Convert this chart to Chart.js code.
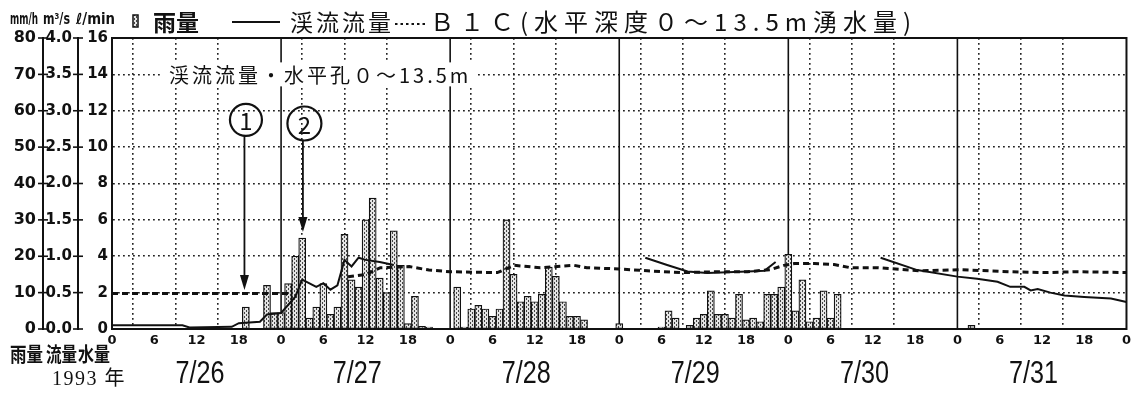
<!DOCTYPE html>
<html>
<head>
<meta charset="utf-8">
<script src="https://cdn.jsdelivr.net/npm/chart.js@4.4.1/dist/chart.umd.min.js"></script>
<style>
  body { margin: 0; background: #fff; }
  #wrap { position: relative; width: 1135px; height: 398px; }
</style>
</head>
<body>
<div id="wrap"><canvas id="chart"></canvas></div>
<script>
// 1993, hourly values from 7/26 0h to 7/31 24h
var days = ['7/26', '7/27', '7/28', '7/29', '7/30', '7/31'];
var hourTicks = ['0', '6', '12', '18'];
var rainTicks = ['0', '10', '20', '30', '40', '50', '60', '70', '80'];
var flowTicks = ['0.0', '0.5', '1.0', '1.5', '2.0', '2.5', '3.0', '3.5', '4.0'];
var bicTicks = ['0', '2', '4', '6', '8', '10', '12', '14', '16'];

// 雨量 mm/h, one bar per hour
var rain0726 = [0,0,0,0,0,0, 0,0,0,0,0,0, 0,0,0,0,0,0, 6,0,0,12,4.5,4.5];
var rain0727 = [12.5,20,25,3,6,12.5, 4,6,26,13.5,11.5,30, 36,14,10,27,17.5,1.5, 9,0.7,0.5,0,0,0];
var rain0728 = [11.5,0.5,5.5,6.5,5.5,3.5, 5.5,30,15,7.5,9,7.5, 9.5,17,14.5,7.5,3.5,3.5, 2.5,0,0,0,0,1.5];
var rain0729 = [0,0,0,0,0,0.5, 5,3,0,1,3,4, 10.5,4,4,3,9.5,2.5, 3,2,9.5,9.5,11.5,20.5];
var rain0730 = [5,13.5,2,3,10.5,3, 9.5,0,0,0,0,0, 0,0,0,0,0,0, 0,0,0,0,0,0];
var rain0731 = [0,1,0,0,0,0, 0,0,0,0,0,0, 0,0,0,0,0,0, 0,0,0,0,0,0];

// 渓流流量 m3/s (hour from 7/26 0h, null = no record)
var flowHours  = [0, 10, 11, 17, 18, 21, 22, 24, 26, 27, 29, 30, 31, 32, 33, 34, 35, 36, 38, 40, 41,
                  75.7, 78.8, 81.7, 84.5, 90.2, 92.6, 94.2, 95,
                  109.1, 114.3, 120, 122.8, 125.7, 127.5, 129.5, 130.4, 131.4, 133.2, 135.2, 138, 141.8, 144];
var flowValues = [0.05, 0.05, 0.02, 0.03, 0.08, 0.1, 0.2, 0.22, 0.44, 0.68, 0.58, 0.63, 0.54, 0.6, 0.95, 0.86, 0.98, 0.95, 0.92, 0.88, null,
                  0.98, 0.88, 0.79, 0.77, 0.79, 0.8, 0.92, null,
                  0.98, 0.81, 0.72, 0.69, 0.65, 0.58, 0.58, 0.53, 0.55, 0.5, 0.46, 0.44, 0.42, 0.37];

// B1C 湧水量 l/min
var bicHours  = [0, 25, 26, 33.5, 36, 38.1, 42.2, 45, 48, 54.7, 57.1, 60.8, 65.6, 67.4, 72, 76, 80.7, 86, 90.2, 93.4,
                 95.4, 96.9, 99.7, 102.5, 104.8, 108.6, 114.7, 120.4, 127.5, 132.3, 137, 144];
var bicValues = [1.95, 1.95, null, 2.87, 3.0, 3.37, 3.43, 3.24, 3.15, 3.1, 3.5, 3.37, 3.5, 3.37, 3.3, 3.2, 3.1, 3.15, 3.15, 3.26,
                 3.5, 3.6, 3.6, 3.55, 3.37, 3.37, 3.2, 3.26, 3.15, 3.1, 3.15, 3.1];

var rain = [].concat(rain0726, rain0727, rain0728, rain0729, rain0730, rain0731);

var numFont = '"DejaVu Sans", sans-serif';
var jpFont = '"Noto Sans CJK JP", sans-serif';
var ink = '#111';

// speckled fill of the rain bars
function speckle() {
  var c = document.createElement('canvas');
  c.width = 4; c.height = 4;
  var g = c.getContext('2d');
  g.fillStyle = '#e4e4e4'; g.fillRect(0, 0, 4, 4);
  g.fillStyle = '#444';
  g.fillRect(0, 0, 1, 2); g.fillRect(2, 2, 1, 2);
  return g.createPattern(c, 'repeat');
}
var barFill = speckle();

function spaced(ctx, txt, x, y, gap) {
  for (var ch of txt) {
    ctx.fillText(ch, x, y);
    x += ctx.measureText(ch).width + gap;
  }
  return x;
}
// draw text squeezed to a given width
function fitText(ctx, txt, x, y, w) {
  var m = ctx.measureText(txt).width;
  ctx.save();
  ctx.translate(x, y);
  ctx.scale(w / m, 1);
  ctx.fillText(txt, 0, 0);
  ctx.restore();
}

var decor = {
  id: 'decor',
  beforeDatasetsDraw: function(chart) {
    var ctx = chart.ctx, a = chart.chartArea, x = chart.scales.x;
    ctx.save();
    ctx.strokeStyle = ink;
    ctx.lineWidth = 1.6;
    for (var d = 1; d < days.length; d++) {
      var px = x.getPixelForValue(d * 24);
      ctx.beginPath(); ctx.moveTo(px, a.top); ctx.lineTo(px, a.bottom); ctx.stroke();
    }
    ctx.restore();
  },
  afterDatasetsDraw: function(chart) {
    var ctx = chart.ctx, a = chart.chartArea, x = chart.scales.x, y = chart.scales.y;
    ctx.save();
    ctx.lineWidth = 2;
    ctx.strokeStyle = ink;
    ctx.strokeRect(a.left, a.top, a.right - a.left, a.bottom - a.top);

    // inner caption
    var cap = '渓流流量・水平孔０～13.5m';
    ctx.font = '20px ' + jpFont;
    ctx.textBaseline = 'middle';
    var cy = y.getPixelForValue(14);
    var w = 0;
    for (var ch of cap) w += ctx.measureText(ch).width + 3;
    ctx.fillStyle = '#fff';
    ctx.fillRect(161, cy - 12, w + 14, 24);
    ctx.fillStyle = ink;
    spaced(ctx, cap, 169, cy + 1, 3);

    // circled markers with arrows
    var marks = [
      { t: '1', hour: 18.8, circ: 11.5, tip: 2.15, r: 16 },
      { t: '2', hour: 27.1, circ: 11.3, tip: 5.33, r: 17 }
    ];
    marks.forEach(function(m) {
      var px = x.getPixelForValue(m.hour);
      var ccx = px + 1.5, ccy = y.getPixelForValue(m.circ);
      var ty = y.getPixelForValue(m.tip);
      ctx.lineWidth = 2.2;
      ctx.beginPath(); ctx.arc(ccx, ccy, m.r, 0, Math.PI * 2); ctx.stroke();
      ctx.font = '24px ' + jpFont;
      ctx.textAlign = 'center';
      ctx.fillText(m.t, ccx, ccy + 1);
      ctx.lineWidth = 1.8;
      ctx.beginPath(); ctx.moveTo(px, ccy + m.r); ctx.lineTo(px, ty - 12); ctx.stroke();
      ctx.beginPath();
      ctx.moveTo(px - 4.5, ty - 15); ctx.lineTo(px + 4.5, ty - 15); ctx.lineTo(px, ty);
      ctx.closePath(); ctx.fill();
    });
    ctx.restore();
  },
  afterDraw: function(chart) {
    var ctx = chart.ctx, x = chart.scales.x;
    ctx.save();
    ctx.fillStyle = ink;
    ctx.strokeStyle = ink;

    // cross ticks on the two outer axes
    ['yFlow', 'yRain'].forEach(function(id) {
      var s = chart.scales[id];
      ctx.lineWidth = 1.6;
      s.ticks.forEach(function(t) {
        var py = s.getPixelForValue(t.value);
        ctx.beginPath(); ctx.moveTo(s.right - 5, py); ctx.lineTo(s.right + 5, py); ctx.stroke();
      });
    });

    ctx.textBaseline = 'middle';
    // unit headers
    ctx.font = 'bold 15px ' + numFont;
    fitText(ctx, 'mm/h', 10, 20, 28);
    fitText(ctx, 'm³/s', 43, 20, 27);
    fitText(ctx, 'ℓ/min', 76, 20, 39);

    // legend
    ctx.fillStyle = barFill;
    ctx.fillRect(133, 15, 5, 12);
    ctx.lineWidth = 1.5;
    ctx.strokeRect(133, 15, 5, 12);
    ctx.fillStyle = ink;
    ctx.font = 'bold 23px ' + jpFont;
    ctx.fillText('雨量', 153, 22);
    ctx.lineWidth = 2;
    ctx.beginPath(); ctx.moveTo(232, 22); ctx.lineTo(280, 22); ctx.stroke();
    ctx.font = '23px ' + jpFont;
    spaced(ctx, '渓流流量', 290, 22, 3);
    ctx.setLineDash([2.5, 3]);
    ctx.beginPath(); ctx.moveTo(395, 24); ctx.lineTo(428, 24); ctx.stroke();
    ctx.setLineDash([]);
    ctx.font = '24px ' + jpFont;
    spaced(ctx, 'Ｂ１Ｃ(水平深度０～13.5m湧水量)', 430, 22, 6);

    // bottom captions
    ctx.font = 'bold 20px ' + jpFont;
    fitText(ctx, '雨量', 10, 354, 33);
    fitText(ctx, '流量', 46, 354, 31);
    fitText(ctx, '水量', 78, 354, 32);
    ctx.font = '20px "Liberation Serif", ' + jpFont;
    spaced(ctx, '1993 年', 52, 380, 1.5);

    ctx.font = '32px "Liberation Sans", sans-serif';
    ctx.textAlign = 'center';
    days.forEach(function(d, i) {
      var px = x.getPixelForValue(i * 24 + (i === 0 ? 12.5 : 10.8));
      var m = ctx.measureText(d).width;
      ctx.save();
      ctx.translate(px, 374);
      ctx.scale(49 / m, 1);
      ctx.fillText(d, 0, 0);
      ctx.restore();
    });
    ctx.restore();
  }
};

var dotted = [1.8, 3.2];
var clear = 'rgba(0,0,0,0)';
Chart.defaults.font.family = numFont;
Chart.defaults.font.weight = 'bold';
Chart.defaults.color = ink;

new Chart(document.getElementById('chart'), {
  type: 'bar',
  data: {
    datasets: [
      {
        type: 'line',
        label: '渓流流量',
        data: flowHours.map(function(h, i) { return { x: h, y: flowValues[i] }; }),
        xAxisID: 'x', yAxisID: 'yFlow',
        borderColor: ink, borderWidth: 2, pointRadius: 0, tension: 0, spanGaps: false,
        order: 0
      },
      {
        type: 'line',
        label: 'B1C',
        data: bicHours.map(function(h, i) { return { x: h, y: bicValues[i] }; }),
        xAxisID: 'x', yAxisID: 'y',
        borderColor: ink, borderWidth: 3, borderDash: [6, 4], pointRadius: 0, tension: 0, spanGaps: false,
        order: 1
      },
      {
        type: 'bar',
        label: '雨量',
        data: rain.map(function(v, i) { return { x: i + 0.5, y: v }; }),
        xAxisID: 'xBar', yAxisID: 'yRain',
        backgroundColor: barFill, borderColor: ink, borderWidth: 1.2, borderSkipped: false,
        barThickness: 7.06,
        order: 2
      }
    ]
  },
  options: {
    responsive: true,
    maintainAspectRatio: false,
    animation: false,
    devicePixelRatio: 1,
    layout: { padding: { top: 38, right: 7, left: 0, bottom: 0 } },
    plugins: { legend: { display: false }, tooltip: { enabled: false } },
    scales: {
      x: {
        type: 'linear', min: 0, max: 144, offset: false,
        ticks: {
          stepSize: 6, autoSkip: false, maxRotation: 0, padding: 4,
          font: { size: 13 },
          callback: function(v) { return hourTicks[Math.round(v % 24) / 6]; }
        },
        grid: {
          color: function(c) { return c.tick && c.tick.value % 24 === 0 ? clear : '#222'; },
          lineWidth: 1.6, drawTicks: false
        },
        border: { display: false, dash: dotted },
        afterFit: function(s) { s.height = 69; }
      },
      xBar: {
        type: 'linear', min: 0, max: 144, offset: false, display: false
      },
      y: {
        position: 'left', min: 0, max: 16, weight: 1,
        ticks: {
          stepSize: 2, padding: 4, font: { size: 15 },
          callback: function(v, i) { return bicTicks[i]; }
        },
        grid: {
          color: function(c) { return c.tick && (c.tick.value === 0 || c.tick.value === 16) ? clear : '#222'; },
          lineWidth: 1.6, drawTicks: false
        },
        border: { display: true, color: ink, width: 2, dash: dotted },
        afterFit: function(s) { s.width = 34; }
      },
      yFlow: {
        position: 'left', min: 0, max: 4, weight: 2,
        ticks: {
          stepSize: 0.5, padding: 6, font: { size: 15 },
          callback: function(v, i) { return flowTicks[i]; }
        },
        grid: { drawOnChartArea: false, drawTicks: false },
        border: { display: true, color: ink, width: 2 },
        afterFit: function(s) { s.width = 35; }
      },
      yRain: {
        position: 'left', min: 0, max: 80, weight: 3,
        ticks: {
          stepSize: 10, padding: 7, font: { size: 16 },
          callback: function(v, i) { return rainTicks[i]; }
        },
        grid: { drawOnChartArea: false, drawTicks: false },
        border: { display: true, color: ink, width: 2 },
        afterFit: function(s) { s.width = 43; }
      }
    }
  },
  plugins: [decor]
});
</script>
</body>
</html>
